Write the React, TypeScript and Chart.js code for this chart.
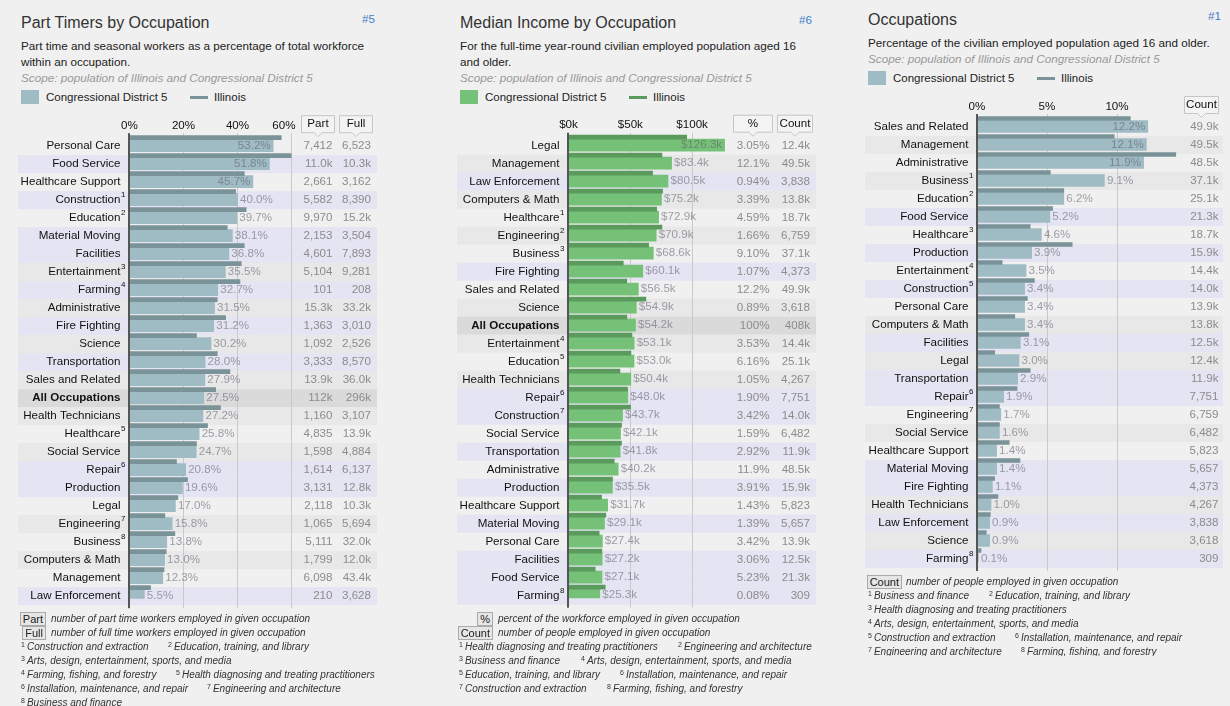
import React, { useEffect, useRef } from 'react';
import { Chart, registerables } from 'chart.js';

Chart.register(...registerables);

const FONT = '"Liberation Sans", Arial, Helvetica, sans-serif';
const FS = 11.6;

// ---------------- Panel 1: Part timers ----------------
const partCategories = ['Personal Care', 'Food Service', 'Healthcare Support', 'Construction', 'Education', 'Material Moving', 'Facilities', 'Entertainment', 'Farming', 'Administrative', 'Fire Fighting', 'Science', 'Transportation', 'Sales and Related', 'All Occupations', 'Health Technicians', 'Healthcare', 'Social Service', 'Repair', 'Production', 'Legal', 'Engineering', 'Business', 'Computers & Math', 'Management', 'Law Enforcement'];
const partSups = [0, 0, 0, 1, 2, 0, 0, 3, 4, 0, 0, 0, 0, 0, 0, 0, 5, 0, 6, 0, 0, 7, 8, 0, 0, 0];
const partDistrict = [53.2, 51.8, 45.7, 40.0, 39.7, 38.1, 36.8, 35.5, 32.7, 31.5, 31.2, 30.2, 28.0, 27.9, 27.5, 27.2, 25.8, 24.7, 20.8, 19.6, 17.0, 15.8, 13.8, 13.0, 12.3, 5.5];
const partIllinois = [56.2, 60.0, 42.5, 39.3, 43.2, 36.2, 42.5, 41.4, 40.9, 32.5, 35.6, 24.8, 32.5, 37.2, 31.9, 33.7, 28.9, 24.8, 17.4, 21.5, 17.9, 13.1, 16.8, 13.6, 12.8, 7.8];
const partCounts = ['7,412', '11.0k', '2,661', '5,582', '9,970', '2,153', '4,601', '5,104', '101', '15.3k', '1,363', '1,092', '3,333', '13.9k', '112k', '1,160', '4,835', '1,598', '1,614', '3,131', '2,118', '1,065', '5,111', '1,799', '6,098', '210'];
const fullCounts = ['6,523', '10.3k', '3,162', '8,390', '15.2k', '3,504', '7,893', '9,281', '208', '33.2k', '3,010', '2,526', '8,570', '36.0k', '296k', '3,107', '13.9k', '4,884', '6,137', '12.8k', '10.3k', '5,694', '32.0k', '12.0k', '43.4k', '3,628'];
const partTicks = [0, 20, 40, 60];

// ---------------- Panel 2: Median income ----------------
const incomeCategories = ['Legal', 'Management', 'Law Enforcement', 'Computers & Math', 'Healthcare', 'Engineering', 'Business', 'Fire Fighting', 'Sales and Related', 'Science', 'All Occupations', 'Entertainment', 'Education', 'Health Technicians', 'Repair', 'Construction', 'Social Service', 'Transportation', 'Administrative', 'Production', 'Healthcare Support', 'Material Moving', 'Personal Care', 'Facilities', 'Food Service', 'Farming'];
const incomeSups = [0, 0, 0, 0, 1, 2, 3, 0, 0, 0, 0, 4, 5, 0, 6, 7, 0, 0, 0, 0, 0, 0, 0, 0, 0, 8];
const incomeDistrict = [126.3, 83.4, 80.5, 75.2, 72.9, 70.9, 68.6, 60.1, 56.5, 54.9, 54.2, 53.1, 53.0, 50.4, 48.0, 43.7, 42.1, 41.8, 40.2, 35.5, 31.7, 29.1, 27.4, 27.2, 27.1, 25.3];
const incomeIllinois = [95.6, 75.6, 68.0, 76.1, 71.3, 75.6, 64.8, 44.3, 47.2, 62.6, 47.2, 51.3, 50.5, 41.6, 47.8, 50.2, 42.9, 42.9, 37.0, 35.6, 26.7, 30.2, 24.8, 27.0, 21.6, 29.7];
const incomePct = ['3.05%', '12.1%', '0.94%', '3.39%', '4.59%', '1.66%', '9.10%', '1.07%', '12.2%', '0.89%', '100%', '3.53%', '6.16%', '1.05%', '1.90%', '3.42%', '1.59%', '2.92%', '11.9%', '3.91%', '1.43%', '1.39%', '3.42%', '3.06%', '5.23%', '0.08%'];
const incomeCounts = ['12.4k', '49.5k', '3,838', '13.8k', '18.7k', '6,759', '37.1k', '4,373', '49.9k', '3,618', '408k', '14.4k', '25.1k', '4,267', '7,751', '14.0k', '6,482', '11.9k', '48.5k', '15.9k', '5,823', '5,657', '13.9k', '12.5k', '21.3k', '309'];
const incomeTicks = [0, 50, 100];

// ---------------- Panel 3: Occupations ----------------
const occCategories = ['Sales and Related', 'Management', 'Administrative', 'Business', 'Education', 'Food Service', 'Healthcare', 'Production', 'Entertainment', 'Construction', 'Personal Care', 'Computers & Math', 'Facilities', 'Legal', 'Transportation', 'Repair', 'Engineering', 'Social Service', 'Healthcare Support', 'Material Moving', 'Fire Fighting', 'Health Technicians', 'Law Enforcement', 'Science', 'Farming'];
const occSups = [0, 0, 0, 1, 2, 0, 3, 0, 4, 5, 0, 0, 0, 0, 0, 6, 7, 0, 0, 0, 0, 0, 0, 0, 8];
const occDistrict = [12.2, 12.1, 11.9, 9.1, 6.2, 5.2, 4.6, 3.9, 3.5, 3.4, 3.4, 3.4, 3.1, 3.0, 2.9, 1.9, 1.7, 1.6, 1.4, 1.4, 1.1, 1.0, 0.9, 0.9, 0.1];
const occIllinois = [10.95, 9.8, 14.2, 5.24, 6.2, 5.4, 3.8, 6.8, 1.8, 4.1, 3.6, 2.7, 3.7, 1.26, 3.8, 2.86, 1.6, 1.6, 2.3, 3.07, 1.26, 1.5, 0.95, 0.66, 0.29];
const occCounts = ['49.9k', '49.5k', '48.5k', '37.1k', '25.1k', '21.3k', '18.7k', '15.9k', '14.4k', '14.0k', '13.9k', '13.8k', '12.5k', '12.4k', '11.9k', '7,751', '6,759', '6,482', '5,823', '5,657', '4,373', '4,267', '3,838', '3,618', '309'];
const occTicks = [0, 5, 10];

const highlightGroup = ['Food Service', 'Construction', 'Material Moving', 'Facilities', 'Farming', 'Fire Fighting', 'Transportation', 'Repair', 'Production', 'Law Enforcement'];

// ---------------- styling ----------------
const PAGE_BG = '#f0f0f0';
const LAV_BG = '#e4e4f2';
const GRAY_BG = '#e8e8e8';
const ALL_BG = '#dadada';
const ROW_H = 18;
const BAR_OFF = 2.5;

interface PanelCfg {
  labels: string[];
  sups: number[];
  cd: number[];
  il: number[];
  ticks: number[];
  tickFmt: (v: number) => string;
  valFmt: (v: number) => string;
  columns: { values: string[]; right: number }[];
  headers: { text: string; x0: number; x1: number }[];
  max: number;
  insideMin: number;
  left: number;
  top: number;
  w: number;
  h: number;
  pad: { left: number; right: number; top: number; bottom: number };
  rowX0: number;
  rowX1: number;
  cdColor: string;
  ilColor: string;
  lastTickRight?: boolean;
}

function makePlugin(p: PanelCfg) {
  return {
    id: 'tableRows',
    beforeDatasetsDraw(chart: any) {
      const ctx = chart.ctx as CanvasRenderingContext2D;
      const ys = chart.scales.y;
      const xs = chart.scales.x;
      const n = p.labels.length;
      const rowTop = (i: number) => ys.getPixelForValue(i) - BAR_OFF;
      ctx.save();
      for (let i = 0; i < n; i++) {
        const t = rowTop(i);
        let col: string | null = null;
        if (p.labels[i] === 'All Occupations') col = ALL_BG;
        else if (highlightGroup.includes(p.labels[i])) col = LAV_BG;
        else if (i % 2 === 1) col = GRAY_BG;
        if (col) {
          ctx.fillStyle = col;
          ctx.fillRect(p.rowX0, t, p.rowX1 - p.rowX0, ROW_H);
        }
      }
      const top = rowTop(0) - 4;
      const bottom = rowTop(n - 1) + ROW_H + 3;
      ctx.fillStyle = '#c9c9c9';
      p.ticks.forEach((v) => {
        if (v === 0) return;
        const px = Math.floor(xs.getPixelForValue(v));
        ctx.fillRect(px, top, 1, bottom - top);
      });
      // tick labels
      ctx.fillStyle = '#111';
      ctx.font = `${FS}px ${FONT}`;
      ctx.textBaseline = 'middle';
      p.ticks.forEach((v, k) => {
        const px = xs.getPixelForValue(v);
        if (p.lastTickRight && k === p.ticks.length - 1) {
          ctx.textAlign = 'right';
          ctx.fillText(p.tickFmt(v), px + 4, rowTop(0) - 11.5);
        } else {
          ctx.textAlign = 'center';
          ctx.fillText(p.tickFmt(v), px, rowTop(0) - 11.5);
        }
      });
      // header boxes
      p.headers.forEach((hd) => {
        const bt = rowTop(0) - 22;
        const bb = rowTop(0) - 5;
        const cx = (hd.x0 + hd.x1) / 2;
        ctx.beginPath();
        ctx.moveTo(hd.x0 + 0.5, bt + 0.5);
        ctx.lineTo(hd.x1 - 0.5, bt + 0.5);
        ctx.lineTo(hd.x1 - 0.5, bb + 0.5);
        ctx.lineTo(cx + 4, bb + 0.5);
        ctx.lineTo(cx, bb + 4.5);
        ctx.lineTo(cx - 4, bb + 0.5);
        ctx.lineTo(hd.x0 + 0.5, bb + 0.5);
        ctx.closePath();
        ctx.fillStyle = '#f3f3f3';
        ctx.fill();
        ctx.strokeStyle = '#c6c6c6';
        ctx.lineWidth = 1;
        ctx.stroke();
        ctx.fillStyle = '#111';
        ctx.textAlign = 'center';
        ctx.fillText(hd.text, cx, (bt + bb) / 2 + 0.5);
      });
      ctx.restore();
    },
    afterDatasetsDraw(chart: any) {
      const ctx = chart.ctx as CanvasRenderingContext2D;
      const ys = chart.scales.y;
      const xs = chart.scales.x;
      const n = p.labels.length;
      const rowTop = (i: number) => ys.getPixelForValue(i) - BAR_OFF;
      ctx.save();
      // zero axis line
      const zx = Math.floor(xs.getPixelForValue(0));
      const top = rowTop(0) - 4;
      const bottom = rowTop(n - 1) + ROW_H + 3;
      ctx.fillStyle = '#555';
      ctx.fillRect(zx - 1, top, 2, bottom - top);
      ctx.textBaseline = 'middle';
      for (let i = 0; i < n; i++) {
        const t = rowTop(i);
        // category label
        ctx.fillStyle = '#111';
        ctx.textAlign = 'right';
        ctx.font = p.labels[i] === 'All Occupations' ? `bold ${FS}px ${FONT}` : `${FS}px ${FONT}`;
        ctx.fillText(p.labels[i], zx - 8.5, t + 9);
        if (p.sups[i]) {
          ctx.font = `8px ${FONT}`;
          ctx.textAlign = 'left';
          ctx.fillText(String(p.sups[i]), zx - 8, t + 4);
        }
        // value label
        const v = p.cd[i];
        const end = xs.getPixelForValue(v);
        ctx.font = `${FS}px ${FONT}`;
        ctx.fillStyle = 'rgba(95,95,110,0.58)';
        if (v >= p.insideMin) {
          ctx.textAlign = 'right';
          ctx.fillText(p.valFmt(v), end - 2.5, t + 8.5);
        } else {
          ctx.textAlign = 'left';
          ctx.fillText(p.valFmt(v), end + 2.5, t + 8.5);
        }
        // table columns
        ctx.fillStyle = '#8c8c8c';
        ctx.textAlign = 'right';
        p.columns.forEach((c) => {
          ctx.fillText(c.values[i], c.right, t + 9);
        });
      }
      ctx.restore();
    },
  };
}

function PanelChart({ p }: { p: PanelCfg }) {
  const ref = useRef<HTMLCanvasElement>(null);
  useEffect(() => {
    if (!ref.current) return;
    const chart = new Chart(ref.current, {
      type: 'bar',
      data: {
        labels: p.labels,
        datasets: [
          { label: 'Illinois', data: p.il, backgroundColor: p.ilColor, barThickness: 4 } as any,
          { label: 'Congressional District 5', data: p.cd, backgroundColor: p.cdColor, barThickness: 12 } as any,
        ],
      },
      options: {
        indexAxis: 'y',
        animation: false,
        responsive: false,
        maintainAspectRatio: false,
        events: [],
        layout: { padding: p.pad },
        scales: {
          x: { display: false, min: 0, max: p.max },
          y: { display: false, offset: true },
        },
        plugins: { legend: { display: false }, tooltip: { enabled: false } },
      },
      plugins: [makePlugin(p)],
    });
    return () => chart.destroy();
  }, []);
  return (
    <canvas
      ref={ref}
      width={p.w}
      height={p.h}
      style={{ position: 'absolute', left: p.left, top: p.top, width: p.w, height: p.h }}
    />
  );
}

const panel1: PanelCfg = {
  labels: partCategories, sups: partSups, cd: partDistrict, il: partIllinois,
  ticks: partTicks, tickFmt: (v) => `${v}%`, valFmt: (v) => `${v.toFixed(1)}%`,
  columns: [{ values: partCounts, right: 332.5 }, { values: fullCounts, right: 371 }],
  headers: [{ text: 'Part', x0: 301, x1: 335 }, { text: 'Full', x0: 339, x1: 373 }],
  max: 60, insideMin: 45,
  left: 0, top: 100, w: 400, h: 515,
  pad: { left: 129.5, right: 108.5, top: 30.7, bottom: 16.3 },
  rowX0: 18, rowX1: 377,
  cdColor: '#9fbbc4', ilColor: '#7a9399', lastTickRight: true,
};

const panel2: PanelCfg = {
  labels: incomeCategories, sups: incomeSups, cd: incomeDistrict, il: incomeIllinois,
  ticks: incomeTicks, tickFmt: (v) => `$${v}k`, valFmt: (v) => `$${v.toFixed(1)}k`,
  columns: [{ values: incomePct, right: 329.5 }, { values: incomeCounts, right: 370 }],
  headers: [{ text: '%', x0: 293, x1: 333 }, { text: 'Count', x0: 337, x1: 373 }],
  max: 127, insideMin: 100,
  left: 440, top: 100, w: 400, h: 515,
  pad: { left: 128.5, right: 114.5, top: 30.2, bottom: 16.8 },
  rowX0: 17, rowX1: 376,
  cdColor: '#76c178', ilColor: '#5b9a5d',
};

const panel3: PanelCfg = {
  labels: occCategories, sups: occSups, cd: occDistrict, il: occIllinois,
  ticks: occTicks, tickFmt: (v) => `${v}%`, valFmt: (v) => `${v.toFixed(1)}%`,
  columns: [{ values: occCounts, right: 368.5 }],
  headers: [{ text: 'Count', x0: 334, x1: 369 }],
  max: 14.3, insideMin: 11.5,
  left: 850, top: 85, w: 380, h: 500,
  pad: { left: 127, right: 52.8, top: 26.5, bottom: 23.5 },
  rowX0: 15, rowX1: 373,
  cdColor: '#9fbbc4', ilColor: '#7a9399',
};

const abs = (left: number, top: number, extra: React.CSSProperties = {}): React.CSSProperties => ({
  position: 'absolute', left, top, whiteSpace: 'nowrap', ...extra,
});

function Header(props: { x: number; titleY: number; title: string; tag: string; tagX: number; tagY: number; desc: React.ReactNode; descY: number; scopeY: number; legY: number; swatch: string; line: string; lineX: number; legText2X: number; legTextX: number }) {
  const p = props;
  return (
    <>
      <div style={abs(p.x, p.titleY - 10, { fontSize: 16, lineHeight: '20px', color: '#333' })}>{p.title}</div>
      <div style={abs(p.tagX, p.tagY - 7, { fontSize: FS, lineHeight: '14px', color: '#3d7cc9' })}>{p.tag}</div>
      <div style={abs(p.x, p.descY - 8, { fontSize: 11.7, lineHeight: '16px', color: '#222' })}>{p.desc}</div>
      <div style={abs(p.x, p.scopeY - 8, { fontSize: 11.7, lineHeight: '16px', color: '#999', fontStyle: 'italic' })}>Scope: population of Illinois and Congressional District 5</div>
      <div style={abs(p.x, p.legY - 7, { width: 18, height: 14, background: p.swatch })} />
      <div style={abs(p.legTextX, p.legY - 8, { fontSize: 11.5, lineHeight: '16px', color: '#222' })}>Congressional District 5</div>
      <div style={abs(p.lineX, p.legY - 1, { width: 18, height: 3, background: p.line })} />
      <div style={abs(p.legText2X, p.legY - 8, { fontSize: 11.5, lineHeight: '16px', color: '#222' })}>Illinois</div>
    </>
  );
}

function Box({ right, y, text }: { right: number; y: number; text: string }) {
  return (
    <div style={{ position: 'absolute', right: 1230 - right, top: y - 7, height: 12, lineHeight: '12px', fontSize: 11, color: '#222', border: '1px solid #aaa', background: '#e6e6e6', padding: '0 2px', whiteSpace: 'nowrap' }}>{text}</div>
  );
}

type Note = [number, number, string];

function NoteLine({ y, items }: { y: number; items: Note[] }) {
  return (
    <>
      {items.map(([x, n, t]) => (
        <div key={n} style={abs(x, y - 7, { fontSize: 10, lineHeight: '14px', color: '#333', fontStyle: 'italic' })}>
          <span style={{ fontSize: 7, position: 'relative', top: -3, fontStyle: 'normal' }}>{n}</span>
          <span style={{ marginLeft: 2 }}>{t}</span>
        </div>
      ))}
    </>
  );
}

function Legendish({ x, y, text }: { x: number; y: number; text: string }) {
  return <div style={abs(x, y - 7, { fontSize: 10, lineHeight: '14px', color: '#333', fontStyle: 'italic' })}>{text}</div>;
}

export default function App() {
  useEffect(() => {
    document.body.style.margin = '0';
    document.body.style.background = PAGE_BG;
  }, []);
  return (
    <div style={{ position: 'absolute', left: 0, top: 0, width: 1230, height: 706, background: PAGE_BG, fontFamily: FONT, overflow: 'hidden' }}>
      <Header x={21} titleY={23} title="Part Timers by Occupation" tag="#5" tagX={362} tagY={19}
        desc={<>Part time and seasonal workers as a percentage of total workforce<br />within an occupation.</>}
        descY={46} scopeY={78} legY={97} swatch="#9fbbc4" line="#7a9399" lineX={190} legTextX={46} legText2X={214} />
      <Header x={460} titleY={23} title="Median Income by Occupation" tag="#6" tagX={799} tagY={20}
        desc={<>For the full-time year-round civilian employed population aged 16<br />and older.</>}
        descY={46} scopeY={78} legY={97} swatch="#76c178" line="#5b9a5d" lineX={629} legTextX={485} legText2X={653} />
      <Header x={868} titleY={19.5} title="Occupations" tag="#1" tagX={1208} tagY={16}
        desc={<>Percentage of the civilian employed population aged 16 and older.</>}
        descY={43} scopeY={58.5} legY={78} swatch="#9fbbc4" line="#7a9399" lineX={1037} legTextX={893} legText2X={1061} />

      <PanelChart p={panel1} />
      <PanelChart p={panel2} />
      <PanelChart p={panel3} />

      {/* Panel 1 notes */}
      <Box right={46} y={618.5} text="Part" />
      <Legendish x={51} y={618.5} text="number of part time workers employed in given occupation" />
      <Box right={46} y={632.5} text="Full" />
      <Legendish x={51} y={632.5} text="number of full time workers employed in given occupation" />
      <NoteLine y={647} items={[[21, 1, 'Construction and extraction'], [168, 2, 'Education, training, and library']]} />
      <NoteLine y={661} items={[[21, 3, 'Arts, design, entertainment, sports, and media']]} />
      <NoteLine y={675} items={[[21, 4, 'Farming, fishing, and forestry'], [176, 5, 'Health diagnosing and treating practitioners']]} />
      <NoteLine y={689} items={[[21, 6, 'Installation, maintenance, and repair'], [207, 7, 'Engineering and architecture']]} />
      <NoteLine y={703} items={[[21, 8, 'Business and finance']]} />

      {/* Panel 2 notes */}
      <Box right={493} y={618.7} text="%" />
      <Legendish x={498} y={618.7} text="percent of the workforce employed in given occupation" />
      <Box right={493} y={632.7} text="Count" />
      <Legendish x={498} y={632.7} text="number of people employed in given occupation" />
      <NoteLine y={647} items={[[459, 1, 'Health diagnosing and treating practitioners'], [678, 2, 'Engineering and architecture']]} />
      <NoteLine y={661} items={[[459, 3, 'Business and finance'], [581, 4, 'Arts, design, entertainment, sports, and media']]} />
      <NoteLine y={675} items={[[459, 5, 'Education, training, and library'], [620, 6, 'Installation, maintenance, and repair']]} />
      <NoteLine y={689} items={[[459, 7, 'Construction and extraction'], [607, 8, 'Farming, fishing, and forestry']]} />

      {/* Panel 3 notes */}
      <Box right={902} y={581.7} text="Count" />
      <Legendish x={906} y={581.7} text="number of people employed in given occupation" />
      <div style={{ position: 'absolute', left: 850, top: 588, width: 380, height: 68, overflow: 'hidden' }}>
        <div style={{ position: 'absolute', left: -850, top: -588, width: 1230, height: 706 }}>
          <NoteLine y={596} items={[[868, 1, 'Business and finance'], [989, 2, 'Education, training, and library']]} />
          <NoteLine y={610} items={[[868, 3, 'Health diagnosing and treating practitioners']]} />
          <NoteLine y={624} items={[[868, 4, 'Arts, design, entertainment, sports, and media']]} />
          <NoteLine y={638} items={[[868, 5, 'Construction and extraction'], [1015, 6, 'Installation, maintenance, and repair']]} />
          <NoteLine y={652} items={[[868, 7, 'Engineering and architecture'], [1021, 8, 'Farming, fishing, and forestry']]} />
        </div>
      </div>
    </div>
  );
}
